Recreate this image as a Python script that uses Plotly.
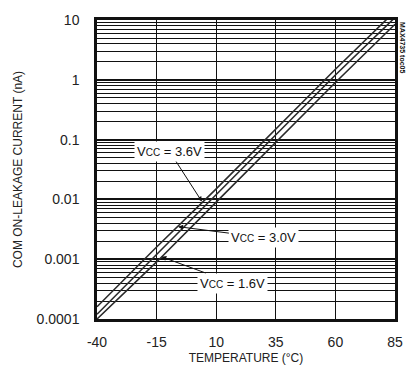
import numpy as np
import plotly.graph_objects as go

# ---- data ----
temperature_c = [-40, -15, 10, 35, 60, 85]
leak_vcc_36 = [0.00016, 0.0016, 0.015, 0.15, 1.5, 14.0]
leak_vcc_30 = [0.00012, 0.0012, 0.012, 0.12, 1.2, 11.0]
leak_vcc_16 = [0.0001, 0.0009, 0.009, 0.09, 0.9, 8.5]

x_ticks = [-40, -15, 10, 35, 60, 85]
y_decades = [0.0001, 0.001, 0.01, 0.1, 1, 10]
y_decade_labels = ["0.0001", "0.001", "0.01", "0.1", "1", "10"]

FONT = "Liberation Sans Narrow, Liberation Sans, Arial, sans-serif"

# minor y grid values: 2..9 in each decade
y_minor_vals = [d * k for d in y_decades[:-1] for k in range(2, 10)]

fig = go.Figure()
for name, ys in [("VCC = 3.6V", leak_vcc_36), ("VCC = 3.0V", leak_vcc_30), ("VCC = 1.6V", leak_vcc_16)]:
    fig.add_trace(go.Scatter(x=temperature_c, y=ys, mode="lines", name=name,
                             line=dict(color="#2a2a2a", width=1.6), showlegend=False))
# helper trace so the minor-grid overlay axis is drawn
fig.add_trace(go.Scatter(x=[None], y=[None], yaxis="y2", mode="lines",
                         showlegend=False, hoverinfo="skip"))

def ann(text, tx, ty, hx, hy):
    fig.add_annotation(text=text, x=hx, y=np.log10(hy), ax=tx, ay=np.log10(ty),
                       xref="x", yref="y", axref="x", ayref="y",
                       showarrow=True, arrowhead=2, arrowsize=1, arrowwidth=1,
                       arrowcolor="#111", bgcolor="white", borderpad=2,
                       font=dict(family=FONT, size=13, color="#111"))

def vcc(v):
    return "V<span style='font-size:10px'>CC</span> = " + v

ann(vcc("3.6V"), -9.5, 0.063, 4, 0.0092)
ann(vcc("3.0V"), 30, 0.0023, -6, 0.0035)
ann(vcc("1.6V"), 17, 0.0004, -13, 0.0011)

fig.add_annotation(text="<b>MAX4735 toc05</b>", xref="paper", yref="paper",
                   x=1.0, y=1.0, xanchor="left", yanchor="top", xshift=2,
                   textangle=90, showarrow=False,
                   font=dict(family=FONT, size=7, color="#111"))

fig.update_xaxes(range=[-40, 85], tickvals=x_ticks, ticktext=[str(v) for v in x_ticks],
                 showgrid=True, gridcolor="#111", gridwidth=1.3,
                 showline=True, linecolor="#111", linewidth=2.5, mirror=True,
                 zeroline=False, ticks="", ticklabelstandoff=8,
                 title=dict(text="TEMPERATURE (°C)", font=dict(family=FONT, size=12, color="#222"),
                            standoff=6),
                 tickfont=dict(family=FONT, size=14, color="#222"))
fig.update_layout(
    yaxis=dict(type="log", range=[-4, 1], tickvals=y_decades, ticktext=y_decade_labels,
               showgrid=True, gridcolor="#111", gridwidth=1.6,
               showline=True, linecolor="#111", linewidth=2.5, mirror=True,
               zeroline=False, ticks="", ticklabelstandoff=12,
               title=dict(text="COM ON-LEAKAGE CURRENT (nA)",
                          font=dict(family=FONT, size=12, color="#222"), standoff=12),
               tickfont=dict(family=FONT, size=14, color="#222")),
    yaxis2=dict(type="log", range=[-4, 1], overlaying="y", side="left",
                tickvals=y_minor_vals, showticklabels=False, ticks="",
                showgrid=True, gridcolor="#111", gridwidth=1.1,
                showline=False, zeroline=False),
    width=415, height=376, margin=dict(l=97, r=12, t=20, b=49),
    paper_bgcolor="white", plot_bgcolor="white")

fig.write_html("out.html")
